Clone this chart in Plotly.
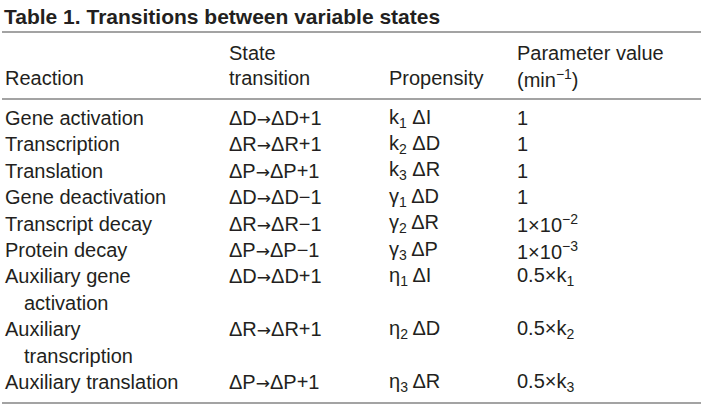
import plotly.graph_objects as go

title = "Table 1. Transitions between variable states"

header_state = ["State", "transition"]
header_param = ["Parameter value", "(min<sup>−1</sup>)"]
headers_single = ["Reaction", "Propensity"]

reaction = [["Gene activation"], ["Transcription"], ["Translation"],
            ["Gene deactivation"], ["Transcript decay"], ["Protein decay"],
            ["Auxiliary gene", "activation"], ["Auxiliary", "transcription"],
            ["Auxiliary translation"]]
transition = ["ΔD→ΔD+1", "ΔR→ΔR+1", "ΔP→ΔP+1", "ΔD→ΔD−1", "ΔR→ΔR−1",
              "ΔP→ΔP−1", "ΔD→ΔD+1", "ΔR→ΔR+1", "ΔP→ΔP+1"]
propensity = ["k<sub>1</sub> ΔI", "k<sub>2</sub> ΔD", "k<sub>3</sub> ΔR",
              "γ<sub>1</sub> ΔD", "γ<sub>2</sub> ΔR", "γ<sub>3</sub> ΔP",
              "η<sub>1</sub> ΔI", "η<sub>2</sub> ΔD", "η<sub>3</sub> ΔR"]
param = ["1", "1", "1", "1", "1×10<sup>−2</sup>", "1×10<sup>−3</sup>",
         "0.5×k<sub>1</sub>", "0.5×k<sub>2</sub>", "0.5×k<sub>3</sub>"]

W, H = 704, 405
col_x = [3, 227, 387, 515]
txt = "#231f20"
fam = "Liberation Sans, Arial, sans-serif"
fnt = dict(family=fam, size=20, color=txt)

fig = go.Figure()
ann = []

def add(x, y, s, **kw):
    ann.append(dict(x=x, y=y, text=s, xref="x", yref="y", showarrow=False,
                    xanchor="left", yanchor="middle", font=kw.get("font", fnt)))

def arrow(s):
    return s.replace("→", "<span style='font-family:DejaVu Sans;font-size:17px'>→</span>")

add(2, 16, "<b>" + title + "</b>", font=dict(family=fam, size=21, color=txt))

# header
add(col_x[1], 53, header_state[0])
add(col_x[1], 78, header_state[1])
add(col_x[3], 53, header_param[0])
add(col_x[3], 78, header_param[1])
add(col_x[0], 78, headers_single[0])
add(col_x[2], 78, headers_single[1])

# body
y0, lh = 118, 26.4
line = 0
for i in range(len(reaction)):
    y = y0 + line * lh
    add(col_x[0], y, reaction[i][0])
    for j, extra in enumerate(reaction[i][1:]):
        add(col_x[0] + 19, y + (j + 1) * lh, extra)
    add(col_x[1], y, arrow(transition[i]))
    add(col_x[2], y, propensity[i])
    add(col_x[3], y, param[i])
    line += len(reaction[i])

for yy in [32, 99, 403]:
    fig.add_shape(type="line", x0=2, x1=701, y0=yy, y1=yy, xref="x", yref="y",
                  line=dict(color="#a3a3a3", width=2))

fig.update_layout(width=W, height=H, margin=dict(l=0, r=0, t=0, b=0),
                  paper_bgcolor="white", plot_bgcolor="white",
                  annotations=ann, showlegend=False,
                  xaxis=dict(range=[0, W], visible=False, fixedrange=True),
                  yaxis=dict(range=[H, 0], visible=False, fixedrange=True))
fig.write_html("out.html", config={"displayModeBar": False},
               post_script="document.body.style.margin='0';")
